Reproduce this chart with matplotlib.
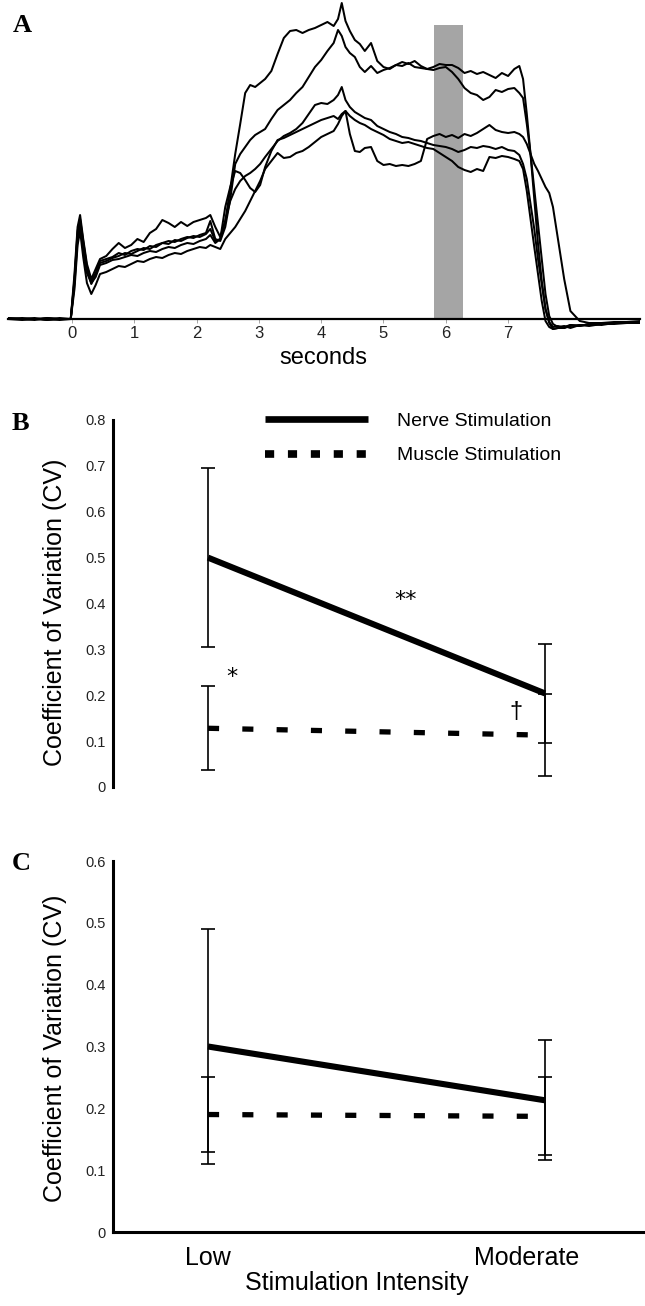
import matplotlib
matplotlib.use("Agg")
import matplotlib.pyplot as plt
from matplotlib.lines import Line2D
from matplotlib.transforms import ScaledTranslation
from matplotlib import font_manager

# ---------------- Panel A: force traces (arbitrary units) ----------------
seconds = [
    -1.03, -0.8, -0.6, -0.4, -0.2, -0.02,
    0.04, 0.09, 0.13, 0.18, 0.24, 0.31, 0.38, 0.45,
    0.55, 0.65, 0.75, 0.85, 0.95, 1.05, 1.15, 1.25, 1.35, 1.45,
    1.55, 1.65, 1.75, 1.85, 1.95, 2.05, 2.15, 2.22, 2.3, 2.38,
    2.46, 2.54, 2.62, 2.7, 2.78, 2.86, 2.94, 3.02, 3.1, 3.2,
    3.3, 3.4, 3.5, 3.6, 3.7, 3.8, 3.9, 4.0, 4.1, 4.2,
    4.27, 4.33, 4.39, 4.46, 4.54, 4.62, 4.7, 4.8, 4.9, 5.0,
    5.1, 5.2, 5.3, 5.4, 5.5, 5.6, 5.7, 5.8, 5.9, 6.0,
    6.1, 6.2, 6.3, 6.4, 6.5, 6.6, 6.7, 6.8, 6.9, 7.0,
    7.1, 7.18, 7.24, 7.3, 7.36, 7.42, 7.48, 7.54, 7.6, 7.66,
    7.72, 7.8, 7.9, 8.0, 8.15, 8.3, 8.5, 8.7, 8.9, 9.12,
]

trace_1 = [
    1, 0, 1, -1, 0, 0,
    45, 92, 104, 80, 55, 40, 50, 60,
    63, 70, 76, 71, 74, 80, 77, 86, 90, 99,
    96, 92, 97, 93, 97, 99, 101, 104, 92, 82,
    98, 130, 165, 195, 226, 234, 232, 236, 240, 248,
    265, 281, 288, 289, 286, 289, 291, 294, 297, 293,
    300, 316, 298, 288, 279, 275, 268, 276, 258, 252,
    250, 254, 257, 255, 258, 253, 250, 252, 255, 254,
    254, 251, 246, 248, 245, 247, 244, 241, 246, 243,
    250, 253, 240, 205, 165, 120, 75, 38, 10, -3,
    -8, -7, -9, -6, -7, -5, -6, -4, -4, -3,
]

trace_2 = [
    0, 1, 0, 0, -1, 0,
    40, 88, 100, 78, 52, 38, 46, 58,
    60, 62, 66, 64, 68, 70, 69, 73, 72, 76,
    78, 77, 80, 82, 81, 84, 86, 98, 80, 78,
    92, 120, 155, 165, 172, 179, 184, 187, 190, 200,
    209, 214, 219, 226, 232, 242, 252, 259, 268, 276,
    289, 283, 272, 266, 262, 252, 247, 253, 246, 249,
    251, 254, 253, 256, 252, 251, 250, 249, 251, 252,
    247, 240, 231, 226, 224, 219, 222, 229, 227, 230,
    231, 226, 221, 195, 165, 130, 95, 60, 25, 3,
    -5, -8, -7, -9, -6, -7, -5, -5, -4, -4,
]

trace_3 = [
    0, 0, -1, 1, 0, 0,
    38, 84, 96, 74, 50, 35, 44, 56,
    58, 61, 63, 66, 65, 68, 71, 70, 74, 76,
    75, 79, 78, 81, 83, 82, 85, 90, 78, 80,
    98, 118, 130, 138, 143, 146, 150, 155, 162, 170,
    178, 183, 186, 190, 196, 205, 214, 216, 215, 219,
    224, 232, 219, 212, 207, 204, 201, 199, 193, 190,
    187, 185, 182, 181, 179, 178, 176, 174, 173, 172,
    170, 167, 169, 172, 171, 173, 172, 170, 172, 169,
    168, 164, 155, 140, 115, 90, 60, 35, 10, -4,
    -10, -9, -8, -6, -7, -5, -5, -4, -4, -3,
]

trace_4 = [
    0, -1, 0, 1, 0, 0,
    35, 80, 94, 70, 46, 36, 42, 54,
    56, 59, 60, 62, 64, 63, 66, 68, 67, 70,
    72, 71, 74, 76, 75, 78, 80, 84, 76, 80,
    112, 132, 148, 146, 139, 131, 127, 134, 152, 168,
    179, 181, 184, 187, 190, 193, 196, 199, 201, 203,
    200, 205, 208, 203, 199, 196, 194, 190, 187, 184,
    180, 178, 176, 177, 175, 173, 171, 170, 166, 162,
    158, 152, 149, 147, 150, 148, 162, 161, 163, 162,
    160, 158, 150, 128, 100, 72, 45, 18, -2, -8,
    -10, -9, -9, -7, -6, -6, -5, -4, -4, -3,
]

trace_5 = [
    1, 0, 0, -1, 1, 0,
    30, 74, 88, 62, 36, 25, 34, 45,
    47, 50, 53, 52, 55, 58, 57, 60, 62, 61,
    64, 66, 65, 68, 70, 72, 71, 74, 72, 70,
    80, 86, 92, 100, 108, 118, 128, 138, 150, 158,
    166, 161, 162, 166, 168, 172, 177, 182, 185, 188,
    195, 203, 208, 185, 168, 167, 171, 172, 158, 154,
    155, 153, 154, 153, 155, 158, 180, 183, 185, 182,
    184, 181, 185, 183, 186, 190, 194, 189, 187, 186,
    187, 185, 182, 175, 165, 155, 148, 140, 132, 126,
    112, 80, 40, 8, -2, -4, -4, -3, -3, -2,
]

window_start = 5.81     # shaded analysis window (s)
window_end = 6.27
window_height = 294
second_ticks = [0, 1, 2, 3, 4, 5, 6, 7]

# ---------------- Panels B and C: coefficient of variation ----------------
intensity = ["Low", "Moderate"]
b_nerve = [0.50, 0.204]
b_nerve_err = [0.195, 0.107]
b_muscle = [0.128, 0.113]
b_muscle_err = [0.092, 0.090]
b_ticks = [0, 0.1, 0.2, 0.3, 0.4, 0.5, 0.6, 0.7, 0.8]
b_tick_labels = ["0", "0.1", "0.2", "0.3", "0.4", "0.5", "0.6", "0.7", "0.8"]

c_nerve = [0.30, 0.213]
c_nerve_err = [0.19, 0.097]
c_muscle = [0.19, 0.187]
c_muscle_err = [0.06, 0.063]
c_ticks = [0, 0.1, 0.2, 0.3, 0.4, 0.5, 0.6]
c_tick_labels = ["0", "0.1", "0.2", "0.3", "0.4", "0.5", "0.6"]

# ---------------- styling ----------------
plt.rcParams["font.family"] = ["Liberation Sans", "DejaVu Sans"]
available = {f.name for f in font_manager.fontManager.ttflist}
narrow = "Liberation Sans Narrow" if "Liberation Sans Narrow" in available else "Liberation Sans"

W, H = 645, 1306
fig = plt.figure(figsize=(W / 100, H / 100), dpi=100)


def rect(left, top, right, bottom):
    return [left / W, 1 - bottom / H, (right - left) / W, (bottom - top) / H]


# ---- Panel A ----
ax_a = fig.add_axes(rect(8, 0, 640, 331))
ax_a.bar(window_start, window_height, width=window_end - window_start,
         align="edge", color="#a5a5a5", zorder=1)
for tr in [trace_1, trace_2, trace_3, trace_4, trace_5]:
    ax_a.plot(seconds, tr, color="black", lw=1.45, solid_joinstyle="round", zorder=3)
ax_a.set_xlim(-1.027, 9.117)
ax_a.set_ylim(-12, 319)
for s in ["top", "right", "left"]:
    ax_a.spines[s].set_visible(False)
ax_a.spines["bottom"].set_position(("data", 0))
ax_a.spines["bottom"].set_linewidth(1.6)
ax_a.spines["bottom"].set_zorder(2)
ax_a.set_yticks([])
ax_a.set_xticks(second_ticks)
ax_a.set_xticklabels([str(s) for s in second_ticks], fontsize=12, color="#222222",
                     family=narrow)
ax_a.tick_params(axis="x", length=3, width=0.6, color="#999999", pad=2)
ax_a.set_xlabel("seconds", fontsize=17)
ax_a.xaxis.set_label_coords((323 - 8) / 632, (331 - 358) / 331)
ax_a.xaxis.label.set_va("center")

# ---- Panel B ----
xpos = [0, 1]
ax_b = fig.add_axes(rect(113, 420, 645, 787))
ax_b.set_xlim(-0.282, 1.297)
ax_b.set_ylim(0, 0.8)
ax_b.plot(xpos, b_nerve, color="black", lw=4.4, solid_capstyle="butt", zorder=3)
ax_b.plot(xpos, b_muscle, color="black", lw=3.8, dashes=(2.1, 4.4), zorder=3)
ax_b.errorbar(xpos, b_nerve, yerr=b_nerve_err, fmt="none", ecolor="black",
              elinewidth=1.2, capsize=5, capthick=1.2, zorder=2)
ax_b.errorbar(xpos, b_muscle, yerr=b_muscle_err, fmt="none", ecolor="black",
              elinewidth=1.2, capsize=5, capthick=1.2, zorder=2)
for s in ["top", "right", "bottom"]:
    ax_b.spines[s].set_visible(False)
ax_b.spines["left"].set_linewidth(2.2)
ax_b.set_xticks([])
ax_b.set_yticks(b_ticks)
ax_b.set_yticklabels(b_tick_labels, fontsize=10.5, color="#222222", family=narrow)
ax_b.tick_params(axis="y", length=0, pad=5)
ax_b.set_ylabel("Coefficient of Variation (CV)", fontsize=18)
ax_b.yaxis.set_label_coords((55 - 113) / 532, (787 - 612) / 367)
ax_b.yaxis.label.set_va("center")

ax_b.text(0.585, 0.407, "**", ha="center", va="center", fontsize=16, family="DejaVu Sans")
ax_b.text(0.071, 0.240, "*", ha="center", va="center", fontsize=16, family="DejaVu Sans")
ax_b.text(0.914, 0.163, "\u2020", ha="center", va="center", fontsize=17)

handles = [
    Line2D([], [], color="black", lw=4.8, solid_capstyle="butt"),
    Line2D([], [], color="black", lw=5.5, dashes=(1.2, 1.8)),
]
ax_b.legend(handles, ["Nerve Stimulation", "Muscle Stimulation"],
            loc="upper left", bbox_to_anchor=((265 - 113) / 532, 1.02),
            frameon=False, fontsize=14, handlelength=5.3, handletextpad=1.5,
            labelspacing=0.85, borderpad=0, borderaxespad=0)

# ---- Panel C ----
ax_c = fig.add_axes(rect(113, 861, 645, 1232))
ax_c.set_xlim(-0.282, 1.297)
ax_c.set_ylim(0, 0.6)
ax_c.plot(xpos, c_nerve, color="black", lw=4.4, solid_capstyle="butt", zorder=3)
ax_c.plot(xpos, c_muscle, color="black", lw=3.8, dashes=(2.1, 4.4), zorder=3)
ax_c.errorbar(xpos, c_nerve, yerr=c_nerve_err, fmt="none", ecolor="black",
              elinewidth=1.2, capsize=5, capthick=1.2, zorder=2)
ax_c.errorbar(xpos, c_muscle, yerr=c_muscle_err, fmt="none", ecolor="black",
              elinewidth=1.2, capsize=5, capthick=1.2, zorder=2)
for s in ["top", "right"]:
    ax_c.spines[s].set_visible(False)
ax_c.spines["left"].set_linewidth(2.2)
ax_c.spines["bottom"].set_linewidth(2.2)
ax_c.set_xticks(xpos)
ax_c.set_xticklabels(intensity, fontsize=18)
ax_c.tick_params(axis="x", length=0, pad=10)
# the "Moderate" label sits a little left of its error bar in the original
mod_label = ax_c.get_xticklabels()[1]
mod_label.set_transform(mod_label.get_transform()
                        + ScaledTranslation(-0.18, 0, fig.dpi_scale_trans))
ax_c.set_yticks(c_ticks)
ax_c.set_yticklabels(c_tick_labels, fontsize=10.5, color="#222222", family=narrow)
ax_c.tick_params(axis="y", length=0, pad=5)
ax_c.set_ylabel("Coefficient of Variation (CV)", fontsize=18)
ax_c.yaxis.set_label_coords((55 - 113) / 532, (1232 - 1048) / 371)
ax_c.yaxis.label.set_va("center")
ax_c.set_xlabel("Stimulation Intensity", fontsize=18)
ax_c.xaxis.set_label_coords((357 - 113) / 532, (1232 - 1283) / 371)
ax_c.xaxis.label.set_va("center")

# ---- panel letters ----
for letter, (lx, ly) in {"A": (13, 32), "B": (12, 430), "C": (12, 870)}.items():
    fig.text(lx / W, 1 - ly / H, letter, fontsize=19, fontweight="bold",
             family=["Liberation Serif", "DejaVu Serif"], va="baseline", ha="left")

fig.savefig("out.png", dpi=100)
